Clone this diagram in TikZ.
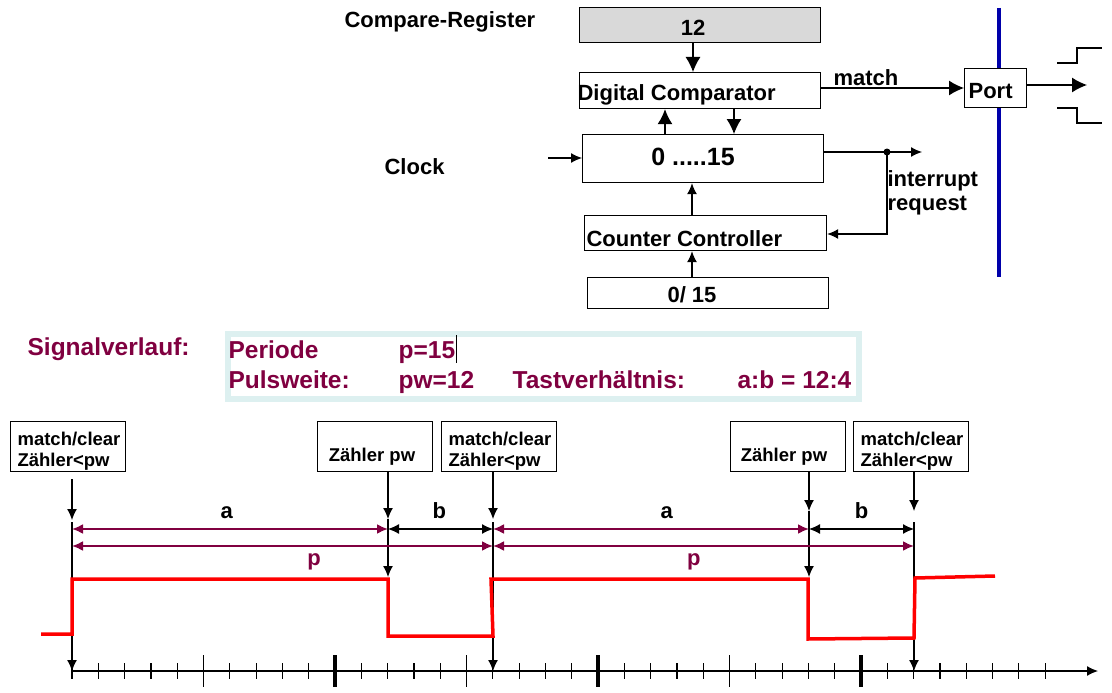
\documentclass[tikz,border=0pt]{standalone}
\usepackage{fontspec}
\setmainfont{Liberation Sans}
\usetikzlibrary{arrows.meta}
\definecolor{wine}{RGB}{128,0,64}
\definecolor{paleframe}{RGB}{221,240,240}
\definecolor{portblue}{RGB}{0,0,170}
\begin{document}
\begin{tikzpicture}[x=1pt,y=-1pt,line width=1.2pt,>={Latex[length=11pt,width=10pt]},
  big/.style={-{Latex[length=15pt,width=15pt]}},
  blk/.style={draw,inner sep=0pt,anchor=north west},
  txt/.style={inner sep=0pt,anchor=base west,font=\fontsize{22}{26}\selectfont\bfseries},
  ctxt/.style={txt,anchor=base},
  sig/.style={txt,wine,font=\fontsize{24.5}{28}\selectfont\bfseries},
  tbox/.style={blk,minimum width=115pt,minimum height=50pt},
  btxt/.style={txt,font=\fontsize{18.5}{21}\selectfont\bfseries},
  dim/.style={<->,wine,line width=2pt},
  dimlbl/.style={inner sep=0pt,black,font=\fontsize{22}{26}\selectfont\bfseries}]
\useasboundingbox (0,0) rectangle (1112,693);

\node[blk,fill=gray!30,minimum width=241pt,minimum height=35pt] (creg) at (579,7) {};
\node[txt] (creglbl) at (344,28) {Compare-Register};
\node[ctxt] (cregval) at (693,36) {12};
\node[blk,minimum width=241pt,minimum height=36pt] (cmp) at (579,72) {};
\node[txt] (cmplbl) at (577,100) {Digital Comparator};
\node[blk,minimum width=241pt,minimum height=48pt] (cnt) at (582,134) {};
\node[ctxt,font=\fontsize{25}{28}\selectfont\bfseries] (cntlbl) at (693,165) {0 .....15};
\node[blk,minimum width=242pt,minimum height=35pt] (ctrl) at (584,215) {};
\node[txt] (ctrllbl) at (586,246) {Counter Controller};
\node[blk,minimum width=241pt,minimum height=31pt] (init) at (587,277) {};
\node[ctxt] (initlbl) at (692,302) {0/ 15};
\node[txt] (clk) at (384,174) {Clock};
\node[txt] (matchlbl) at (833,86) {match};
\node[txt] (irqa) at (887,186) {interrupt};
\node[txt] (irqb) at (887,210) {request};

\draw[portblue,line width=4pt] (999,8) -- (999,277);
\node[blk,fill=white,minimum width=62pt,minimum height=39pt] (port) at (964,68) {};
\node[txt] (portlbl) at (968,99) {Port};
\coordinate (clkin) at (548,158);
\coordinate (cntout) at (922,152);
\coordinate (tap) at (887,152);
\coordinate (portout) at (1087,85);

\draw[big] (693,0 |- creg.south) -- (693,0 |- cmp.north);
\draw[big] (665,0 |- cnt.north) -- (665,0 |- cmp.south);
\draw[big] (734,0 |- cmp.south) -- (734,0 |- cnt.north);
\draw[->] (clkin) -- (cnt.west |- clkin);
\draw[->] (cnt.east |- cntout) -- (cntout);
\fill (tap) circle (3.5pt);
\draw[->] (tap) |- (ctrl.east |- 0,234);
\draw[->] (692,0 |- ctrl.north) -- (692,0 |- cnt.south);
\draw[->] (692,0 |- init.north) -- (692,0 |- ctrl.south);
\draw[big] (cmp.east |- 0,88) -- (port.west |- 0,88);
\draw[big] (port.east |- portout) -- (portout);
\draw (1057,63) -| (1077,48) -- (1102,48);
\draw (1057,108) -| (1077,123) -- (1102,123);

\node[sig] (sigtitle) at (27,355) {Signalverlauf:};
\node[draw=paleframe,line width=6pt,anchor=north west,minimum width=631.5pt,minimum height=65pt,inner sep=0pt] (param) at (224.5,331) {};
\node[sig] (per) at (228,358) {Periode};
\node[sig] (perval) at (398,358) {p=15};
\draw[line width=0.8pt] (456,335) -- (456,363);
\node[sig] (pw) at (228,388) {Pulsweite:};
\node[sig] (pwval) at (398,388) {pw=12};
\node[sig] (tv) at (512,388) {Tastverhältnis:};
\node[sig] (tvval) at (737,388) {a:b = 12:4};

\node[tbox] (mc1) at (10,421) {};
\node[btxt] (mc1a) at (17,445) {match/clear};
\node[btxt] (mc1b) at (17,466) {Zähler<pw};
\node[tbox] (zp1) at (317,421) {};
\node[btxt,anchor=base] (zp1a) at (372,461) {Zähler pw};
\node[tbox] (mc2) at (441,421) {};
\node[btxt] (mc2a) at (448,445) {match/clear};
\node[btxt] (mc2b) at (448,466) {Zähler<pw};
\node[tbox] (zp2) at (730,421) {};
\node[btxt,anchor=base] (zp2a) at (784,461) {Zähler pw};
\node[tbox] (mc3) at (853,421) {};
\node[btxt] (mc3a) at (860,445) {match/clear};
\node[btxt] (mc3b) at (860,466) {Zähler<pw};

\foreach \n/\x in {0/72,1/388,2/493,3/809,4/914}
  \coordinate (e\n) at (\x,671);
\coordinate (axend) at (1098,671);

\draw[->] (e0 |- 0,479) -- (e0 |- 0,520);
\draw[->] (e1 |- zp1.south) -- (e1 |- 0,519);
\draw[->] (e2 |- mc2.south) -- (e2 |- 0,519);
\draw[->] (e3 |- zp2.south) -- (e3 |- 0,511);
\draw[->] (e4 |- mc3.south) -- (e4 |- 0,511);
\draw[->] (e0 |- 0,522) -- (e0);
\draw[->] (e1 |- 0,519) -- (e1 |- 0,577);
\draw[->] (e2 |- 0,522) -- (e2);
\draw[->] (e3 |- 0,511) -- (e3 |- 0,577);
\draw[->] (e4 |- 0,522) -- (e4);

\draw[dim] (e0 |- 0,529) -- (e1 |- 0,529) node[dimlbl,pos=.49,anchor=base,yshift=11pt] (la1) {a};
\draw[<->] (e1 |- 0,529) -- (e2 |- 0,529) node[dimlbl,pos=.49,anchor=base,yshift=11pt] (lb1) {b};
\draw[dim] (e2 |- 0,529) -- (e3 |- 0,529) node[dimlbl,pos=.55,anchor=base,yshift=11pt] (la2) {a};
\draw[<->] (e3 |- 0,529) -- (e4 |- 0,529) node[dimlbl,pos=.5,anchor=base,yshift=11pt] (lb2) {b};
\draw[dim] (e0 |- 0,546) -- (e2 |- 0,546) node[dimlbl,wine,pos=.575,anchor=base,yshift=-19pt] (lp1) {p};
\draw[dim] (e2 |- 0,546) -- (e4 |- 0,546) node[dimlbl,wine,pos=.477,anchor=base,yshift=-19pt] (lp2) {p};

\draw[->] (e0) -- (axend);
\foreach \k in {0,...,37}
  \draw (72+26.3*\k,663) -- (72+26.3*\k,679);
\foreach \k in {5,15,25}
  \draw (72+26.3*\k,655) -- (72+26.3*\k,687);
\foreach \k in {10,20,30}
  \draw[line width=4pt] (72+26.3*\k,655) -- (72+26.3*\k,687);

\draw[red,line width=3.5pt] (41,634) -- (72,634) -- (72,579) -- (388,579) -- (388,636)
  -- (493,636) -- (491,579) -- (808,579) -- (808,639) -- (914,638) -- (915,578) -- (995,576);
\end{tikzpicture}
\end{document}
